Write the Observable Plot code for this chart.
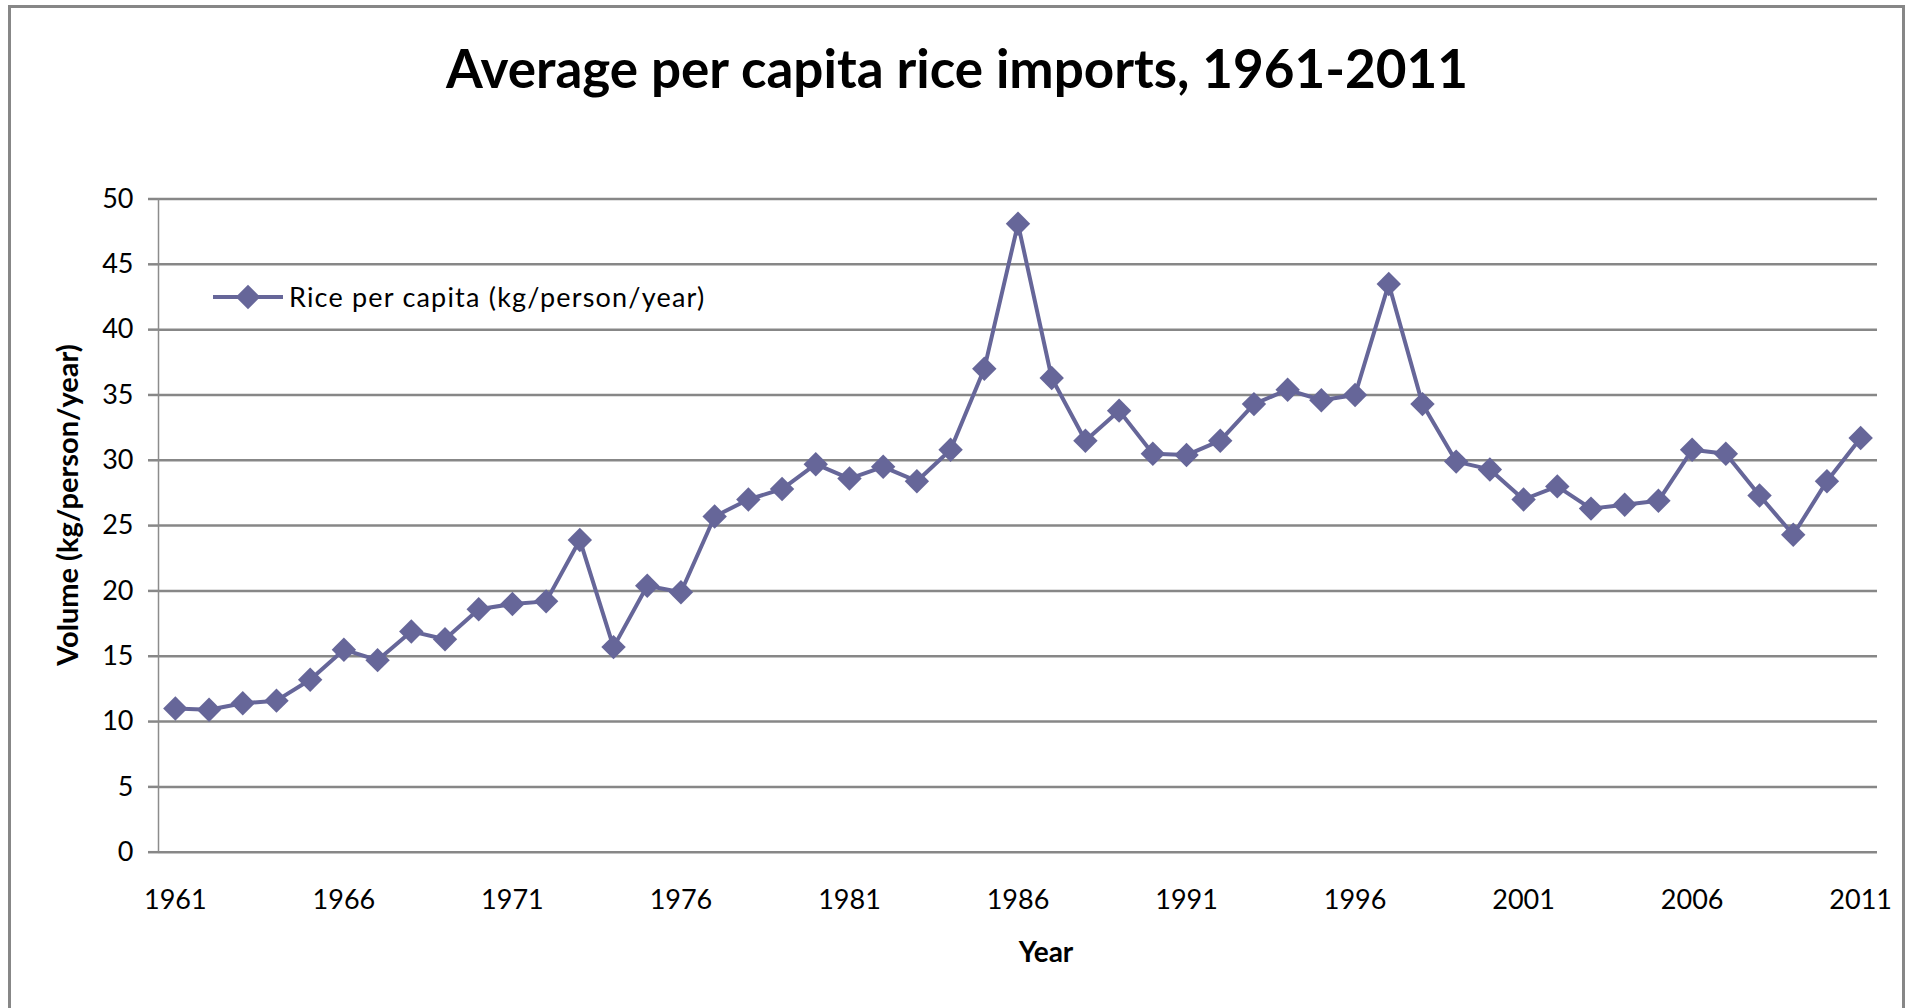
<!DOCTYPE html>
<html>
<head>
<meta charset="utf-8">
<script src="https://cdn.jsdelivr.net/npm/d3@7"></script>
<script src="https://cdn.jsdelivr.net/npm/@observablehq/plot@0.6"></script>
<style>
  html, body { margin: 0; padding: 0; background: #fff; overflow: hidden; }
  #chart { position: relative; width: 1913px; height: 1008px; font-family: Lato, sans-serif; }
  #frame { position: absolute; left: 8px; top: 5px; width: 1897px; height: 1100px;
           border: 3px solid #878787; box-sizing: border-box; }
  #plot, #overlay { position: absolute; left: 0; top: 0; }
  #overlay { pointer-events: none; }
</style>
</head>
<body>
<div id="chart">
  <div id="frame"></div>
  <div id="plot"></div>
  <svg id="overlay" width="1913" height="1008"></svg>
</div>
<script>
// Rice imports per person, one value per year (kg/person/year)
const years = [
  1961, 1962, 1963, 1964, 1965, 1966, 1967, 1968, 1969, 1970,
  1971, 1972, 1973, 1974, 1975, 1976, 1977, 1978, 1979, 1980,
  1981, 1982, 1983, 1984, 1985, 1986, 1987, 1988, 1989, 1990,
  1991, 1992, 1993, 1994, 1995, 1996, 1997, 1998, 1999, 2000,
  2001, 2002, 2003, 2004, 2005, 2006, 2007, 2008, 2009, 2010, 2011
];
const ricePerCapita = [
  11.0, 10.9, 11.4, 11.6, 13.2, 15.5, 14.7, 16.9, 16.3, 18.6,
  19.0, 19.2, 23.9, 15.7, 20.4, 19.9, 25.7, 27.0, 27.8, 29.7,
  28.6, 29.5, 28.4, 30.8, 37.0, 48.1, 36.3, 31.5, 33.8, 30.5,
  30.4, 31.5, 34.3, 35.4, 34.6, 35.0, 43.5, 34.3, 29.9, 29.3,
  27.0, 28.0, 26.3, 26.6, 26.9, 30.8, 30.5, 27.3, 24.3, 28.4, 31.7
];
const xTickYears = [1961, 1966, 1971, 1976, 1981, 1986, 1991, 1996, 2001, 2006, 2011];
const yTicks = [0, 5, 10, 15, 20, 25, 30, 35, 40, 45, 50];

const titleText = "Average per capita rice imports, 1961-2011";
const seriesName = "Rice per capita (kg/person/year)";
const xLabel = "Year";
const yLabel = "Volume (kg/person/year)";

const lineColor = "#666699";
const gridColor = "#878787";
const markerR = 11;

const rows = years.map((year, i) => ({year, value: ricePerCapita[i]}));
// each year occupies one category slot, points sit in the middle of it
const xDomain = [years[0] - 0.5, years[years.length - 1] + 0.5];

const chart = Plot.plot({
  width: 1913,
  height: 1008,
  marginTop: 198.5,
  marginBottom: 156.3,
  marginLeft: 158,
  marginRight: 36,
  x: {domain: xDomain, axis: null},
  y: {domain: [0, 50], axis: null},
  style: {fontFamily: "Lato, sans-serif", fontSize: "27px", background: "transparent", color: "#000", overflow: "visible"},
  marks: [
    Plot.gridY({ticks: yTicks, stroke: gridColor, strokeWidth: 2.5, strokeOpacity: 1}),
    Plot.axisY({ticks: yTicks, tickSize: 10, tickPadding: 15, stroke: gridColor, strokeWidth: 2.5, fill: "#000", label: null}),
    Plot.ruleX([xDomain[0]], {stroke: "#8c8c8c", strokeWidth: 1.5}),
    Plot.axisX({ticks: xTickYears, tickSize: 0, tickPadding: 38, tickFormat: d => String(d), fill: "#000", label: null}),
    Plot.line(rows, {x: "year", y: "value", stroke: lineColor, strokeWidth: 4}),
    Plot.dot(rows, {x: "year", y: "value", symbol: "diamond2", r: markerR, fill: lineColor, stroke: "none"})
  ]
});
document.getElementById("plot").appendChild(chart);

// title, axis titles and legend
const svg = d3.select("#overlay");
svg.append("text")
  .attr("x", 957).attr("y", 88)
  .attr("text-anchor", "middle")
  .style("font", "bold 53px Lato, sans-serif")
  .text(titleText);

svg.append("text")
  .attr("transform", "translate(78,505) rotate(-90)")
  .attr("text-anchor", "middle")
  .style("font", "bold 29px Lato, sans-serif")
  .text(yLabel);

svg.append("text")
  .attr("x", 1046).attr("y", 962)
  .attr("text-anchor", "middle")
  .style("font", "bold 28px Lato, sans-serif")
  .text(xLabel);

const legend = svg.append("g").attr("transform", "translate(213,297)");
legend.append("line")
  .attr("x1", 0).attr("x2", 70).attr("y1", 0).attr("y2", 0)
  .attr("stroke", lineColor).attr("stroke-width", 4);
legend.append("path")
  .attr("transform", "translate(35,0)")
  .attr("d", d3.symbol(d3.symbolDiamond2, Math.PI * markerR * markerR)())
  .attr("fill", lineColor);
legend.append("text")
  .attr("x", 76).attr("y", 9.7)
  .style("font", "27px Lato, sans-serif")
  .style("letter-spacing", "1.2px")
  .text(seriesName);
</script>
</body>
</html>
